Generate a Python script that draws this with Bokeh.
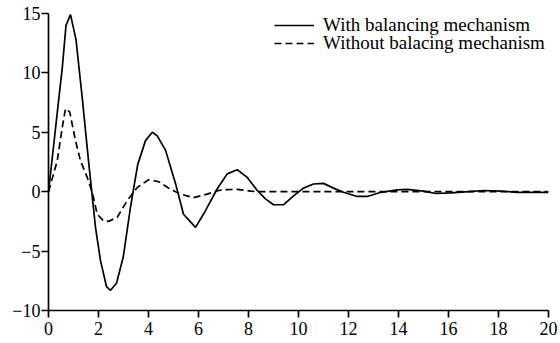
from bokeh.plotting import figure
from bokeh.models import Range1d, Legend, LegendItem, FixedTicker
from bokeh.embed import file_html
from bokeh.resources import INLINE

# With balancing mechanism
t_with = [0, 0.2, 0.4, 0.55, 0.7, 0.88, 1.1, 1.35, 1.6, 1.88, 2.08, 2.32, 2.48, 2.72,
          2.99, 3.28, 3.57, 3.88, 4.15, 4.35, 4.68, 5.08, 5.4, 5.88, 6.28, 6.75,
          7.15, 7.55, 7.95, 8.35, 8.68, 9.0, 9.4, 9.8, 10.2, 10.6, 11.0, 11.4, 11.8,
          12.35, 12.75, 13.3, 13.95, 14.35, 15.0, 15.5, 16.1, 16.8, 17.4, 18.1,
          18.75, 19.4, 20]
y_with = [0, 3.8, 7.6, 10.4, 14.0, 14.9, 12.8, 7.9, 2.6, -3.0, -5.8, -8.0, -8.3, -7.7,
          -5.5, -1.3, 2.3, 4.3, 5.0, 4.7, 3.5, 0.7, -1.9, -3.0, -1.6, 0.25,
          1.5, 1.85, 1.2, 0.1, -0.6, -1.1, -1.1, -0.35, 0.3, 0.65, 0.7, 0.3, -0.05,
          -0.4, -0.4, -0.05, 0.15, 0.2, 0.05, -0.15, -0.1, 0.0, 0.1, 0.05,
          -0.05, -0.05, -0.05]

# Without balancing mechanism
t_without = [0, 0.35, 0.55, 0.68, 0.85, 1.08, 1.28, 1.55, 1.75, 1.95, 2.2, 2.4, 2.75,
             3.15, 3.55, 4.0, 4.4, 4.88, 5.28, 5.8, 6.35, 6.8, 7.15, 7.55, 8.08,
             8.5, 20]
y_without = [0, 2.6, 5.4, 7.0, 6.7, 4.3, 2.6, 1.2, -0.05, -1.9, -2.45, -2.5, -2.15,
             -0.75, 0.35, 1.0, 0.85, 0.2, -0.2, -0.5, -0.2, 0.1, 0.17, 0.2, 0.05,
             0.0, 0.0]

x_ticks = [0, 2, 4, 6, 8, 10, 12, 14, 16, 18, 20]
y_ticks = [-10, -5, 0, 5, 10, 15]
labels = ["With balancing mechanism", "Without balacing mechanism"]

FONT = "Times New Roman"

p = figure(width=560, height=343, output_backend="svg", toolbar_location=None,
           x_range=Range1d(0, 20), y_range=Range1d(-10, 15),
           min_border_left=48, min_border_right=12, min_border_top=13,
           min_border_bottom=33)
p.outline_line_color = None
p.xgrid.visible = False
p.ygrid.visible = False
p.background_fill_color = "white"

r1 = p.line(t_with, y_with, line_color="black", line_width=1.7)
r2 = p.line(t_without, y_without, line_color="black", line_width=1.7, line_dash="7 4")

p.xaxis.ticker = FixedTicker(ticks=x_ticks)
p.yaxis.ticker = FixedTicker(ticks=y_ticks)
for ax in (p.xaxis, p.yaxis):
    ax.axis_line_width = 1.7
    ax.axis_line_color = "black"
    ax.major_tick_line_width = 1.7
    ax.major_tick_line_color = "black"
    ax.major_tick_in = 0
    ax.major_tick_out = 7
    ax.minor_tick_line_color = None
    ax.major_label_text_font = FONT
    ax.major_label_text_font_size = "18px"
    ax.major_label_text_color = "black"
p.xaxis.major_label_standoff = 4
p.yaxis.major_label_standoff = 1


def make_legend(label, renderer, loc):
    lg = Legend(items=[LegendItem(label=label, renderers=[renderer])], location=loc)
    lg.border_line_color = None
    lg.background_fill_alpha = 0
    lg.label_text_font = FONT
    lg.label_text_font_size = "19px"
    lg.label_text_color = "black"
    lg.glyph_width = 40
    lg.glyph_height = 18
    lg.label_height = 18
    lg.label_standoff = 9
    lg.spacing = 0
    lg.padding = 0
    lg.margin = 0
    return lg


p.add_layout(make_legend(labels[0], r1, (226, 274)))
p.add_layout(make_legend(labels[1], r2, (226, 256)))

open("out.html", "w").write(file_html(p, INLINE))
